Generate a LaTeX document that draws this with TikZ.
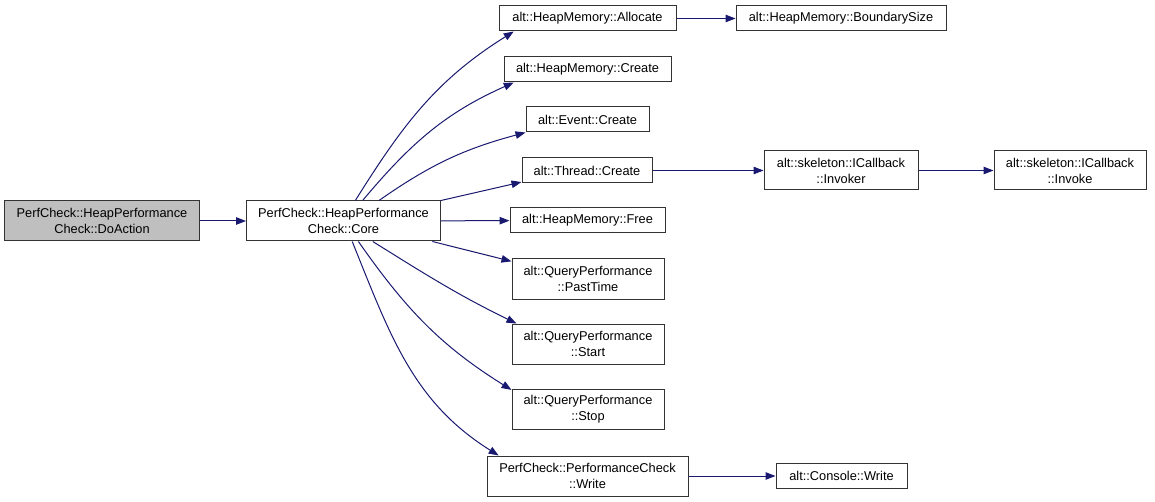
\documentclass[tikz,border=0pt]{standalone}
\usepackage{fontspec}
\setmainfont{Liberation Sans}
\usepackage{tikz}
\usetikzlibrary{arrows.meta}
\usepackage{xcolor}
\definecolor{edgeblue}{HTML}{191970}
\definecolor{rootgray}{HTML}{BFBFBF}
\definecolor{boxframe}{HTML}{333333}

\begin{document}
\begin{tikzpicture}[x=1pt, y=-1pt,
  fn/.style={draw=boxframe, line width=1pt, fill=white, rectangle, inner sep=0pt,
    align=center, font=\fontsize{12.8}{16}\selectfont},
  call/.style={draw=edgeblue, line width=1pt, -{Triangle[length=10pt,width=7.5pt]}}]
  \useasboundingbox (0,0) rectangle (1155,502);
  % 起点与核心函数
  \node[fn, fill=rootgray, minimum width=195pt, minimum height=40pt] (doaction) at (102,221)
    {PerfCheck::HeapPerformance\\Check::DoAction};
  \node[fn, minimum width=194pt, minimum height=40pt] (core) at (343.5,221)
    {PerfCheck::HeapPerformance\\Check::Core};
  % 第二列：被 Core 调用
  \node[fn, minimum width=177pt, minimum height=25pt] (alloc) at (587.5,18.5) {alt::HeapMemory::Allocate};
  \node[fn, minimum width=167pt, minimum height=25pt] (hmcreate) at (587.5,69.5) {alt::HeapMemory::Create};
  \node[fn, minimum width=123pt, minimum height=25pt] (evcreate) at (587.5,119.5) {alt::Event::Create};
  \node[fn, minimum width=130pt, minimum height=25pt] (thcreate) at (587,170.5) {alt::Thread::Create};
  \node[fn, minimum width=155pt, minimum height=25pt] (hmfree) at (587.5,220.5) {alt::HeapMemory::Free};
  \node[fn, minimum width=152pt, minimum height=40pt] (pasttime) at (588,279) {alt::QueryPerformance\\::PastTime};
  \node[fn, minimum width=152pt, minimum height=40pt] (qpstart) at (588,344) {alt::QueryPerformance\\::Start};
  \node[fn, minimum width=152pt, minimum height=40pt] (qpstop) at (588,409) {alt::QueryPerformance\\::Stop};
  \node[fn, minimum width=201pt, minimum height=40pt] (pcwrite) at (587.5,476) {PerfCheck::PerformanceCheck\\::Write};
  % 第三、四列
  \node[fn, minimum width=210pt, minimum height=25pt] (boundary) at (841,18.5) {alt::HeapMemory::BoundarySize};
  \node[fn, minimum width=154pt, minimum height=39pt] (invoker) at (841,170.5) {alt::skeleton::ICallback\\::Invoker};
  \node[fn, minimum width=152pt, minimum height=39pt] (invoke) at (1070,170.5) {alt::skeleton::ICallback\\::Invoke};
  \node[fn, minimum width=131pt, minimum height=25pt] (conwrite) at (841.5,476) {alt::Console::Write};
  % 调用关系
  \draw[call] (doaction) -- (core);
  \draw[call] (core.60) to[out=58, in=212] (alloc.190);
  \draw[call] (core.47) to[out=50, in=204] (hmcreate.190);
  \draw[call] (core.30) to[out=35, in=195] (evcreate.south west);
  \draw[call] (core.north east) -- (thcreate.190);
  \draw[call] (core) -- (hmfree);
  \draw[call] (core.-13) -- (pasttime.167);
  \draw[call] (core.-35) to[out=-32, in=154] (qpstart.164);
  \draw[call] (core.-54) to[out=-55, in=148] (qpstop.166);
  \draw[call] (core.-67) to[out=-68, in=148] (pcwrite.167);
  \draw[call] (alloc) -- (boundary);
  \draw[call] (thcreate) -- (invoker);
  \draw[call] (invoker) -- (invoke);
  \draw[call] (pcwrite) -- (conwrite);
\end{tikzpicture}
\end{document}
